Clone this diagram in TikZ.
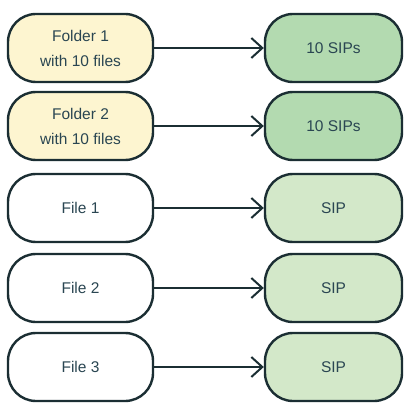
\documentclass[tikz,border=0pt]{standalone}
\usepackage{fontspec}
\setmainfont{Liberation Sans}
\usetikzlibrary{arrows.meta}
\definecolor{edgeline}{HTML}{1B2E33}
\definecolor{labeltext}{HTML}{2A4652}
\definecolor{folderfill}{HTML}{FDF5D0}
\definecolor{manysipfill}{HTML}{B3DAB0}
\definecolor{sipfill}{HTML}{D3E8C9}
\tikzset{
  pill/.style={draw=edgeline, line width=2.4pt, rounded corners=28pt,
    minimum height=68pt, align=center, text=labeltext,
    font=\fontsize{15.5}{25}\selectfont},
  srcbox/.style={pill, minimum width=145pt},
  dstbox/.style={pill, minimum width=137pt},
  feed/.style={draw=edgeline, line width=2pt,
    -{Straight Barb[length=11pt,width=20pt,line width=2pt]}}
}
\begin{document}
\begin{tikzpicture}[x=1pt,y=1pt]
  \useasboundingbox (0,0) rectangle (406,402);
  % sources on the left
  \node[srcbox, fill=folderfill] (f1) at (80.5,354) {Folder 1\\with 10 files};
  \node[srcbox, fill=folderfill] (f2) at (80.5,276) {Folder 2\\with 10 files};
  \node[srcbox, fill=white] (s1) at (80.5,194) {File 1};
  \node[srcbox, fill=white] (s2) at (80.5,114) {File 2};
  \node[srcbox, fill=white] (s3) at (80.5,35) {File 3};
  % packages on the right
  \node[dstbox, fill=manysipfill] (p1) at (333.5,354) {10 SIPs};
  \node[dstbox, fill=manysipfill] (p2) at (333.5,276) {10 SIPs};
  \node[dstbox, fill=sipfill] (q1) at (333.5,194) {SIP};
  \node[dstbox, fill=sipfill] (q2) at (333.5,114) {SIP};
  \node[dstbox, fill=sipfill] (q3) at (333.5,35) {SIP};
  % conversions
  \draw[feed] (f1) -- (p1);
  \draw[feed] (f2) -- (p2);
  \draw[feed] (s1) -- (q1);
  \draw[feed] (s2) -- (q2);
  \draw[feed] (s3) -- (q3);
\end{tikzpicture}
\end{document}
